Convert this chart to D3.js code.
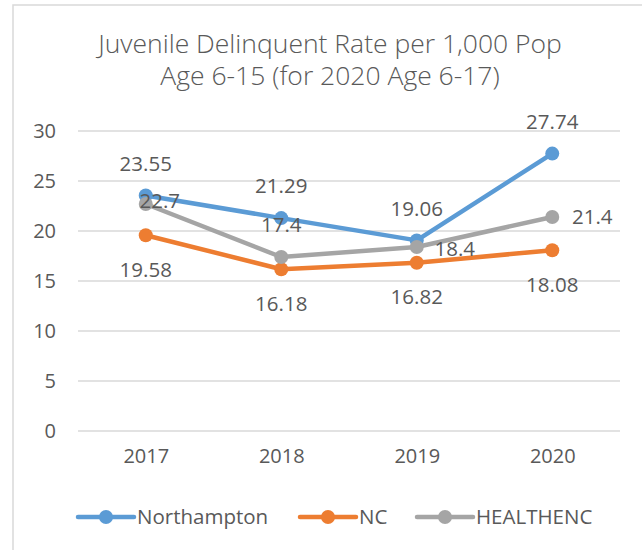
<!DOCTYPE html>
<html>
<head>
<meta charset="utf-8">
<script src="https://cdn.jsdelivr.net/npm/d3@7"></script>
<style>
  html, body { margin: 0; padding: 0; background: #fff; }
  svg { display: block; }
  text { font-family: "Open Sans", "Noto Sans", sans-serif; fill: #595959; }
</style>
</head>
<body>
<svg id="chart" width="642" height="550"></svg>
<script>
// ---- Data ----
const titleLines = ["Juvenile Delinquent Rate per 1,000 Pop", "Age 6-15 (for 2020 Age 6-17)"];
const years = ["2017", "2018", "2019", "2020"];
const northampton = [23.55, 21.29, 19.06, 27.74];
const nc = [19.58, 16.18, 16.82, 18.08];
const healthenc = [22.7, 17.4, 18.4, 21.4];
const seriesNames = ["Northampton", "NC", "HEALTHENC"];
const yTicks = [0, 5, 10, 15, 20, 25, 30];

// ---- Styles / layout (not data) ----
const colors = ["#5B9BD5", "#ED7D31", "#A5A5A5"];
// label placement per series and point: [dx, dy] of text centre from the marker
const labelPlacement = [
  [[0, -32], [0, -32], [0, -32], [0, -32]],
  [[0, 34], [0, 34], [0, 34], [0, 34]],
  [[14, -3], [0, -32], [38, 2], [40, 0]]
];

const series = [northampton, nc, healthenc].map((vals, i) => ({
  name: seriesNames[i], color: colors[i],
  points: vals.map((v, j) => ({ year: years[j], value: v, j }))
}));

const svg = d3.select("#chart");

// outer chart-area border
svg.append("rect").attr("x", 13).attr("y", 5).attr("width", 660).attr("height", 580)
  .attr("fill", "none").attr("stroke", "#D9D9D9").attr("stroke-width", 1.5);

// title
svg.append("g").selectAll("text").data(titleLines).join("text")
  .attr("x", 330).attr("y", (d, i) => 53 + i * 32)
  .attr("text-anchor", "middle").attr("font-size", 26.5).attr("font-weight", 300)
  .text(d => d);

const x = d3.scalePoint().domain(years).range([78, 620]).padding(0.5);
const y = d3.scaleLinear().domain([0, 30]).range([431, 131]);

// gridlines
svg.append("g").selectAll("line").data(yTicks).join("line")
  .attr("x1", 78).attr("x2", 620)
  .attr("y1", d => y(d)).attr("y2", d => y(d))
  .attr("stroke", "#D9D9D9").attr("stroke-width", 1.5);

// y axis labels
const yAxis = d3.axisLeft(y).tickValues(yTicks).tickSize(0).tickPadding(0);
const yg = svg.append("g").attr("transform", "translate(56,0)").call(yAxis);
yg.select(".domain").remove();
yg.selectAll("text").attr("font-size", 20).attr("fill", "#595959")
  .attr("font-family", '"Open Sans", sans-serif');

// x axis labels
const xAxis = d3.axisBottom(x).tickSize(0).tickPadding(0);
const xg = svg.append("g").attr("transform", "translate(0,449)").call(xAxis);
xg.select(".domain").remove();
xg.selectAll("text").attr("font-size", 20).attr("fill", "#595959")
  .attr("font-family", '"Open Sans", sans-serif');

// lines
const line = d3.line().x(d => x(d.year)).y(d => y(d.value));
const sg = svg.append("g").selectAll("g").data(series).join("g");
sg.append("path").attr("d", d => line(d.points))
  .attr("fill", "none").attr("stroke", d => d.color)
  .attr("stroke-width", 4.5).attr("stroke-linejoin", "round").attr("stroke-linecap", "round");
sg.selectAll("circle").data(d => d.points.map(p => ({ ...p, color: d.color }))).join("circle")
  .attr("cx", d => x(d.year)).attr("cy", d => y(d.value)).attr("r", 7)
  .attr("fill", d => d.color);

// data labels
series.forEach((s, i) => {
  svg.append("g").selectAll("text").data(s.points).join("text")
    .attr("x", d => x(d.year) + labelPlacement[i][d.j][0])
    .attr("y", d => y(d.value) + labelPlacement[i][d.j][1])
    .attr("dy", "0.36em").attr("text-anchor", "middle").attr("font-size", 20.5)
    .text(d => d.value);
});

// legend
const legendX = [78, 300, 417];
const lg = svg.append("g").selectAll("g").data(series).join("g")
  .attr("transform", (d, i) => `translate(${legendX[i]},517)`);
lg.append("line").attr("x1", 0).attr("x2", 56).attr("y1", 0).attr("y2", 0)
  .attr("stroke", d => d.color).attr("stroke-width", 4.5).attr("stroke-linecap", "round");
lg.append("circle").attr("cx", 28).attr("cy", 0).attr("r", 7).attr("fill", d => d.color);
lg.append("text").attr("x", 59).attr("y", 0).attr("dy", "0.36em")
  .attr("font-size", 20.5).text(d => d.name);
</script>
</body>
</html>
